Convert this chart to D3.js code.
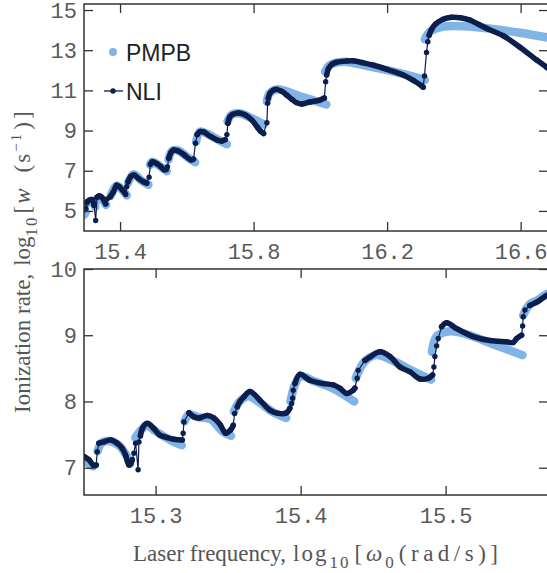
<!DOCTYPE html>
<html>
<head>
<meta charset="utf-8">
<script src="https://cdn.jsdelivr.net/npm/d3@7"></script>
<style>
body { margin: 0; background: #fff; }
.tick text { font-family: "Liberation Mono", monospace; font-size: 22px; fill: #5a5a5a; }
.tick line { stroke: #333; stroke-width: 1.3; }
.lbl { font-family: "Liberation Serif", serif; font-size: 23px; fill: #555; }
.leg { font-family: "Liberation Sans", Arial, sans-serif; font-size: 23px; fill: #222; }
</style>
</head>
<body>
<svg id="chart" width="547" height="573"></svg>
<script>
// ---- top panel, wide frequency range ----
var topXTicks = [15.4, 15.8, 16.2, 16.6];
var topYTicks = [5, 7, 9, 11, 13, 15];

// NLI smooth branches (each one drawn as a thick band)
var nliTopLobes = [
    [[15.292,5.05],[15.297,5.12]],
    [[15.302,5.46],[15.310,5.55],[15.317,5.55],[15.322,5.28]],
    [[15.331,5.68],[15.337,5.75],[15.345,5.68],[15.357,5.35]],
    [[15.370,5.70],[15.380,5.95],[15.390,6.28],[15.398,6.20],[15.407,6.04],[15.414,5.90]],
    [[15.424,6.45],[15.432,6.71],[15.442,6.79],[15.455,6.62],[15.470,6.45],[15.480,6.38]],
    [[15.491,7.32],[15.497,7.45],[15.510,7.35],[15.522,7.20],[15.532,7.05],[15.538,7.06]],
    [[15.546,7.62],[15.552,7.90],[15.560,8.03],[15.572,8.00],[15.592,7.79],[15.612,7.54],[15.620,7.58]],
    [[15.631,8.80],[15.640,8.95],[15.650,8.93],[15.672,8.70],[15.691,8.53],[15.705,8.48],[15.715,8.55]],
    [[15.723,9.36],[15.728,9.65],[15.737,9.80],[15.755,9.88],[15.775,9.78],[15.795,9.52],[15.812,9.15],[15.822,8.95],[15.830,8.85]],
    [[15.844,10.61],[15.849,10.86],[15.858,11.00],[15.869,11.05],[15.885,10.95],[15.899,10.77],[15.915,10.55],[15.929,10.39],[15.944,10.32],[15.969,10.42],[15.999,10.52],[16.012,10.62]],
    [[16.019,11.77],[16.024,12.08],[16.035,12.30],[16.049,12.40],[16.079,12.46],[16.099,12.47],[16.129,12.37],[16.160,12.25],[16.199,12.05],[16.248,11.77],[16.280,11.48],[16.304,11.22],[16.308,11.16]],
    [[16.326,13.75],[16.332,14.00],[16.345,14.30],[16.368,14.54],[16.393,14.64],[16.420,14.62],[16.448,14.50],[16.475,14.28],[16.502,14.05],[16.548,13.72],[16.598,13.15],[16.648,12.51],[16.678,12.15],[16.700,11.85]]
];
// NLI points on the steep jumps between branches
var nliTopJumps = [[15.300,5.40],[15.327,4.52],[15.362,5.60],[15.417,5.82],[15.420,6.20],[15.487,6.68],
    [15.542,7.20],[15.626,8.37],[15.720,8.80],[15.840,9.39],[15.842,10.36],[16.016,11.43],
    [16.312,11.72],[16.318,12.89],[16.322,13.42]];

var pmpbTopLobes = [
    [[15.292,4.80],[15.298,4.95]],
    [[15.303,5.40],[15.316,5.50],[15.326,5.20]],
    [[15.334,5.55],[15.343,5.62],[15.358,5.30]],
    [[15.372,5.75],[15.390,6.25],[15.410,5.98],[15.420,5.78]],
    [[15.424,6.40],[15.440,6.82],[15.465,6.50],[15.485,6.30]],
    [[15.490,7.30],[15.497,7.45],[15.520,7.22],[15.540,6.98]],
    [[15.545,7.55],[15.557,8.00],[15.575,8.00],[15.600,7.70],[15.625,7.42]],
    [[15.628,8.45],[15.640,8.95],[15.660,8.85],[15.690,8.58],[15.720,8.32]],
    [[15.722,9.45],[15.735,9.80],[15.760,9.85],[15.790,9.65],[15.830,9.30]],
    [[15.840,10.45],[15.848,10.85],[15.870,11.05],[15.944,10.68],[16.018,10.30]],
    [[16.014,11.93],[16.029,12.26],[16.069,12.43],[16.149,12.18],[16.248,11.82],[16.313,11.52]],
    [[16.313,13.54],[16.328,13.92],[16.368,14.17],[16.408,14.20],[16.498,14.09],[16.598,13.87],[16.678,13.64],[16.700,13.58]]
];

// ---- bottom panel, zoom on low frequencies ----
var botXTicks = [15.3, 15.4, 15.5];
var botYTicks = [7, 8, 9, 10];

var nliBotLobes = [
    [[15.2506,7.17],[15.254,7.12],[15.2574,7.03],[15.259,7.04]],
    [[15.2609,7.37],[15.2643,7.39],[15.269,7.42],[15.2735,7.37],[15.277,7.29],[15.2793,7.19],[15.2816,7.04],[15.2828,7.06],[15.2839,7.12]],
    [[15.2895,7.48],[15.2908,7.59],[15.2942,7.67],[15.2988,7.59],[15.303,7.49],[15.3057,7.47],[15.3126,7.43],[15.3183,7.42]],
    [[15.323,7.83],[15.3264,7.77],[15.3299,7.75],[15.3356,7.79],[15.3402,7.75],[15.3448,7.64],[15.3483,7.52],[15.3517,7.57],[15.3535,7.64]],
    [[15.3563,7.92],[15.3581,8.00],[15.3609,8.07],[15.365,8.15],[15.3719,8.02],[15.3788,7.87],[15.3846,7.82],[15.3903,7.83],[15.3926,7.90]],
    [[15.3961,8.27],[15.3995,8.41],[15.4064,8.32],[15.4156,8.27],[15.4225,8.25],[15.4271,8.20],[15.4317,8.12],[15.4363,8.17],[15.4374,8.20]],
    [[15.4443,8.62],[15.4478,8.67],[15.4547,8.75],[15.4616,8.68],[15.4685,8.52],[15.4753,8.45],[15.4823,8.34],[15.488,8.35],[15.491,8.40]],
    [[15.4972,9.13],[15.5007,9.19],[15.5076,9.10],[15.519,8.98],[15.5306,8.92],[15.5421,8.90],[15.5466,8.89],[15.549,8.95],[15.5524,9.00]],
    [[15.5581,9.45],[15.5628,9.50],[15.5697,9.60],[15.575,9.64]]
];
var nliBotJumps = [[15.2597,7.24],[15.285,7.22],[15.2862,7.37],[15.2879,6.97],[15.2885,7.39],
    [15.319,7.52],[15.3195,7.69],[15.3545,7.82],[15.3938,7.97],[15.3945,8.05],[15.3949,8.17],
    [15.439,8.35],[15.4397,8.47],[15.4919,8.52],[15.4926,8.68],[15.4938,8.84],[15.4949,8.95],
    [15.5531,9.14],[15.5535,9.28],[15.5547,9.38]];

var pmpbBotLobes = [
    [[15.251,7.10],[15.254,7.06],[15.257,7.02]],
    [[15.260,7.25],[15.263,7.38],[15.269,7.40],[15.275,7.33],[15.280,7.18],[15.2825,7.06]],
    [[15.286,7.45],[15.290,7.57],[15.294,7.64],[15.300,7.55],[15.310,7.42],[15.318,7.34]],
    [[15.320,7.70],[15.323,7.80],[15.330,7.76],[15.338,7.73],[15.346,7.55],[15.352,7.48]],
    [[15.354,7.85],[15.358,8.00],[15.364,8.08],[15.372,7.98],[15.380,7.85],[15.390,7.75]],
    [[15.393,8.00],[15.396,8.25],[15.400,8.38],[15.410,8.30],[15.420,8.22],[15.430,8.10],[15.437,8.00]],
    [[15.438,8.35],[15.444,8.60],[15.452,8.70],[15.465,8.60],[15.478,8.45],[15.490,8.33]],
    [[15.4905,8.75],[15.4937,8.98],[15.500,9.05],[15.5085,9.05],[15.519,8.98],[15.531,8.88],[15.553,8.70]],
    [[15.5535,9.30],[15.558,9.47],[15.5628,9.52],[15.5697,9.62],[15.575,9.65]]
];

var pmpbColor = "#80b3e6";
var nliColor = "#0b1e4c";

var svg = d3.select("#chart");

function drawPanel(id, box, xDomain, yDomain, xTicks, yTicks, pmpbLobes, nliLobes, nliJumps) {
    var x = d3.scaleLinear().domain(xDomain).range([box.left, box.right]);
    var y = d3.scaleLinear().domain(yDomain).range([box.bottom, box.top]);

    svg.append("clipPath").attr("id", id)
        .append("rect")
        .attr("x", box.left).attr("y", box.top)
        .attr("width", box.right - box.left).attr("height", box.bottom - box.top);

    var plot = svg.append("g").attr("clip-path", "url(#" + id + ")");

    var band = d3.line().x(d => x(d[0])).y(d => y(d[1])).curve(d3.curveCatmullRom);
    var thin = d3.line().x(d => x(d[0])).y(d => y(d[1]));

    // PMPB: dense scatter, looks like a pale band
    plot.selectAll(".pmpb-band").data(pmpbLobes).enter()
        .append("path")
        .attr("d", band)
        .attr("fill", "none")
        .attr("stroke", pmpbColor)
        .attr("stroke-width", 8.5)
        .attr("stroke-linecap", "round")
        .attr("stroke-linejoin", "round");

    // NLI: line with markers
    var allPts = nliLobes.flat().concat(nliJumps).sort((a, b) => a[0] - b[0]);
    plot.append("path")
        .attr("d", thin(allPts))
        .attr("fill", "none")
        .attr("stroke", nliColor)
        .attr("stroke-width", 1.2);

    plot.selectAll(".nli-band").data(nliLobes).enter()
        .append("path")
        .attr("d", band)
        .attr("fill", "none")
        .attr("stroke", nliColor)
        .attr("stroke-width", 5.5)
        .attr("stroke-linecap", "round")
        .attr("stroke-linejoin", "round");

    plot.selectAll(".nli-dot").data(allPts).enter()
        .append("circle")
        .attr("cx", d => x(d[0]))
        .attr("cy", d => y(d[1]))
        .attr("r", 2.7)
        .attr("fill", nliColor);

    // axes, ticks on all four sides pointing inward
    var fmt = d3.format(".1f");
    svg.append("g")
        .attr("transform", "translate(0," + box.bottom + ")")
        .call(d3.axisBottom(x).tickValues(xTicks).tickSize(-9).tickPadding(12).tickFormat(fmt))
        .call(g => g.select(".domain").remove());
    svg.append("g")
        .attr("transform", "translate(0," + box.top + ")")
        .call(d3.axisTop(x).tickValues(xTicks).tickSize(-9).tickFormat(""))
        .call(g => g.select(".domain").remove());
    svg.append("g")
        .attr("transform", "translate(" + box.left + ",0)")
        .call(d3.axisLeft(y).tickValues(yTicks).tickSize(-9).tickPadding(7).tickFormat(d3.format("d")))
        .call(g => g.select(".domain").remove());
    svg.append("g")
        .attr("transform", "translate(" + box.right + ",0)")
        .call(d3.axisRight(y).tickValues(yTicks).tickSize(-9).tickFormat(""))
        .call(g => g.select(".domain").remove());

    svg.append("rect")
        .attr("x", box.left).attr("y", box.top)
        .attr("width", box.right - box.left).attr("height", box.bottom - box.top)
        .attr("fill", "none")
        .attr("stroke", "#333")
        .attr("stroke-width", 1.5);
}

drawPanel("clipTop", {left: 84, right: 548, top: 4, bottom: 231},
    [15.292, 16.682], [4.0, 15.3], topXTicks, topYTicks, pmpbTopLobes, nliTopLobes, nliTopJumps);
drawPanel("clipBot", {left: 84, right: 548, top: 269, bottom: 495},
    [15.2506, 15.5706], [6.588, 10.0], botXTicks, botYTicks, pmpbBotLobes, nliBotLobes, nliBotJumps);

// legend
var leg = svg.append("g");
leg.append("circle").attr("cx", 113).attr("cy", 52).attr("r", 4).attr("fill", pmpbColor);
leg.append("text").attr("class", "leg").attr("x", 126).attr("y", 61).text("PMPB");
leg.append("line").attr("x1", 104).attr("x2", 123).attr("y1", 91).attr("y2", 91)
    .attr("stroke", nliColor).attr("stroke-width", 1.3);
leg.append("circle").attr("cx", 113).attr("cy", 91).attr("r", 2.7).attr("fill", nliColor);
leg.append("text").attr("class", "leg").attr("x", 126).attr("y", 100).text("NLI");

// y axis title
var yl = svg.append("text").attr("class", "lbl")
    .attr("transform", "translate(30,413) rotate(-90)")
    .attr("text-anchor", "start");
yl.append("tspan").text("Ionization rate,");
yl.append("tspan").attr("dx", 8).text("log");
yl.append("tspan").attr("font-size", "17px").attr("dy", 7).attr("letter-spacing", 2).text("10");
yl.append("tspan").attr("dy", -7).attr("dx", 2).text("[");
yl.append("tspan").attr("font-style", "italic").attr("dx", 2).text("w");
yl.append("tspan").attr("dx", 16).attr("letter-spacing", 2).text("(s");
yl.append("tspan").attr("font-size", "15px").attr("dy", -9).attr("letter-spacing", 2).text("\u22121");
yl.append("tspan").attr("dy", 9).attr("dx", 2).attr("letter-spacing", 3).text(")]");

// x axis title
var xl = svg.append("text").attr("class", "lbl")
    .attr("x", 133).attr("y", 561)
    .attr("text-anchor", "start");
xl.append("tspan").text("Laser frequency,");
xl.append("tspan").attr("dx", 7).attr("letter-spacing", 2).text("log");
xl.append("tspan").attr("font-size", "17px").attr("dy", 7).attr("dx", 1).attr("letter-spacing", 2).text("10");
xl.append("tspan").attr("dy", -7).attr("dx", 4).text("[");
xl.append("tspan").attr("font-style", "italic").attr("dx", 4).text("\u03c9");
xl.append("tspan").attr("font-size", "17px").attr("dy", 7).attr("dx", 3).text("0");
xl.append("tspan").attr("dy", -7).attr("dx", 5).attr("letter-spacing", 4.5).text("(rad/s)]");
</script>
</body>
</html>
